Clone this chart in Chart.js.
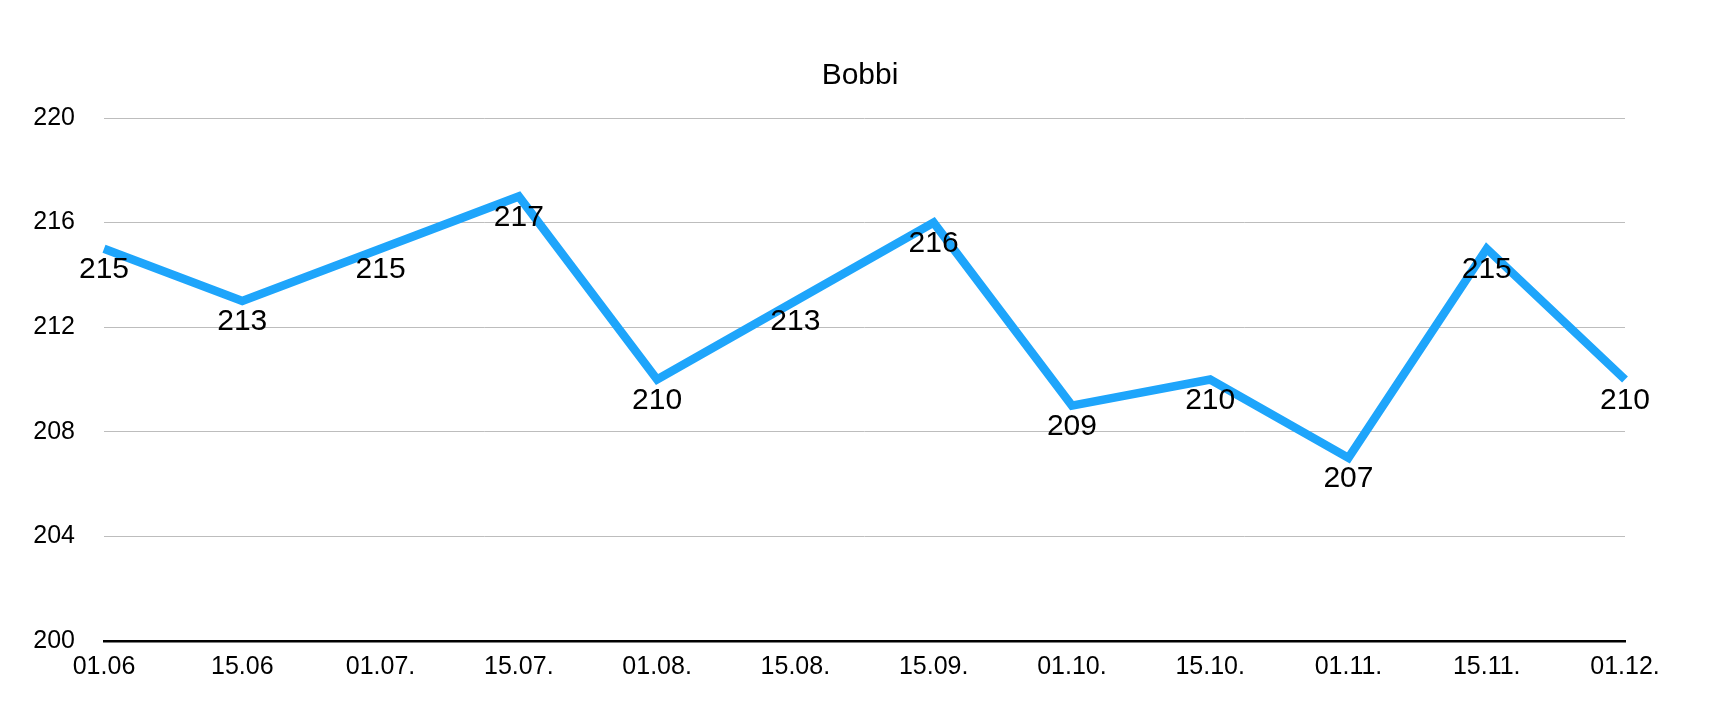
<!DOCTYPE html>
<html>
<head>
<meta charset="utf-8">
<title>Bobbi</title>
<script src="https://cdn.jsdelivr.net/npm/chart.js@4"></script>
<style>
  html, body { margin: 0; padding: 0; background: #ffffff; }
  #wrap { width: 1720px; height: 716px; position: relative; }
</style>
</head>
<body>
<div id="wrap"><canvas id="bobbiChart"></canvas></div>
<script>
// Daten
const dates = ['01.06', '15.06', '01.07.', '15.07.', '01.08.', '15.08.', '15.09.', '01.10.', '15.10.', '01.11.', '15.11.', '01.12.'];
const weights = [215, 213, 215, 217, 210, 213, 216, 209, 210, 207, 215, 210];
const yTicks = [200, 204, 208, 212, 216, 220];

const FONT = "'Liberation Sans', Arial, Helvetica, sans-serif";

// Werte unter jedem Punkt schreiben
const valueLabels = {
    id: 'valueLabels',
    afterDatasetsDraw(chart) {
        const ctx = chart.ctx;
        const meta = chart.getDatasetMeta(0);
        ctx.save();
        ctx.font = '30px ' + FONT;
        ctx.fillStyle = '#000000';
        ctx.textAlign = 'center';
        ctx.textBaseline = 'middle';
        meta.data.forEach(function(pt, i) {
            ctx.fillText(String(weights[i]), pt.x, pt.y + 21);
        });
        ctx.restore();
    }
};

document.addEventListener('DOMContentLoaded', function() {
    const ctx = document.getElementById('bobbiChart').getContext('2d');

    new Chart(ctx, {
        type: 'line',
        data: {
            labels: dates,
            datasets: [{
                label: 'Bobbi',
                data: weights,
                yAxisID: 'y',
                borderColor: '#1ea5fb',
                borderWidth: 8.5,
                tension: 0,
                fill: false,
                pointRadius: 0,
                pointHoverRadius: 0,
                borderJoinStyle: 'miter',
                borderCapStyle: 'butt'
            }]
        },
        options: {
            responsive: true,
            maintainAspectRatio: false,
            animation: false,
            layout: {
                padding: { top: 0, left: 0, right: 0, bottom: 23 }
            },
            plugins: {
                legend: { display: false },
                tooltip: { enabled: false },
                title: {
                    display: true,
                    text: 'Bobbi',
                    color: '#000000',
                    font: { family: FONT, size: 30, weight: 'normal', lineHeight: 1.2 },
                    padding: { top: 58, bottom: 24 }
                }
            },
            scales: {
                y: {
                    min: 200,
                    max: 220,
                    afterBuildTicks: function(axis) {
                        axis.ticks = yTicks.map(v => ({ value: v }));
                    },
                    afterFit: function(axis) {
                        axis.width = 104;
                    },
                    grid: {
                        color: '#bdbdbd',
                        lineWidth: 1,
                        drawTicks: false
                    },
                    border: { display: false },
                    ticks: {
                        color: '#000000',
                        padding: 29,
                        font: { family: FONT, size: 25 }
                    }
                },
                // leere Achse rechts, hält nur den Rand frei
                rightGap: {
                    position: 'right',
                    min: 0,
                    max: 1,
                    afterFit: function(axis) {
                        axis.width = 95;
                    },
                    grid: { display: false, drawTicks: false },
                    border: { display: false },
                    ticks: { display: false }
                },
                x: {
                    offset: false,
                    grid: { display: false, drawTicks: false },
                    border: { display: true, color: '#000000', width: 2.5 },
                    ticks: {
                        color: '#000000',
                        padding: 11,
                        maxRotation: 0,
                        autoSkip: false,
                        font: { family: FONT, size: 25 }
                    }
                }
            }
        },
        plugins: [valueLabels]
    });
});
</script>
</body>
</html>
